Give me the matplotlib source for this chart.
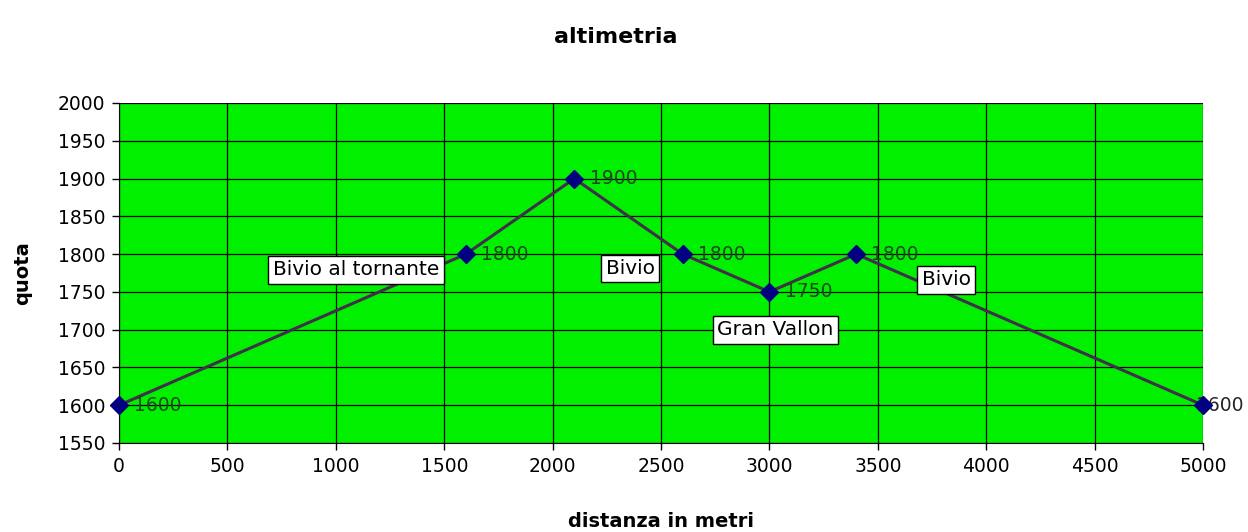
import matplotlib
matplotlib.use("Agg")
import matplotlib.pyplot as plt

plt.rcParams['font.family'] = ['DejaVu Sans']

# data
distanza = [0, 1600, 2100, 2600, 3000, 3400, 5000]
quota = [1600, 1800, 1900, 1800, 1750, 1800, 1600]

# callout labels (text, x, y in data units)
callout_text = ['Bivio al tornante', 'Bivio', 'Gran Vallon', 'Bivio']
callout_x = [1093, 2357, 3028, 3815]
callout_y = [1779, 1781, 1700, 1766]

x_ticks = list(range(0, 5001, 500))
y_ticks = list(range(1550, 2001, 50))

fig = plt.figure(figsize=(12.48, 5.32), dpi=100)
ax = fig.add_axes([0.0954, 0.1673, 0.8686, 0.6391])
ax.set_facecolor('#00f000')

ax.plot(distanza, quota, color='#40304a', lw=2.2, zorder=3)
ax.plot(distanza, quota, ls='none', marker='D', ms=9, color='#000080', zorder=5, clip_on=False)

# value labels
for xv, yv in zip(distanza, quota):
    if xv == max(distanza):
        ax.annotate(str(yv), (xv, yv), xytext=(29, 0), textcoords='offset points',
                    ha='right', va='center', fontsize=13.5, color='#262626', zorder=4,
                    annotation_clip=False)
    else:
        ax.annotate(str(yv), (xv, yv), xytext=(11, 0), textcoords='offset points',
                    ha='left', va='center', fontsize=13.5, color='#1d4a1d', zorder=4)

for t, xv, yv in zip(callout_text, callout_x, callout_y):
    ax.text(xv, yv, t, ha='center', va='center', fontsize=14.5, color='black', zorder=6,
            bbox=dict(boxstyle='square,pad=0.22', fc='white', ec='black', lw=1))

ax.set_xlim(0, 5000)
ax.set_ylim(1550, 2000)
ax.set_xticks(x_ticks)
ax.set_yticks(y_ticks)
ax.grid(True, color='black', lw=0.9)
ax.set_axisbelow(True)
ax.tick_params(direction='out', length=5, width=1, colors='black', labelsize=13.5, pad=5)
for s in ['top', 'right']:
    ax.spines[s].set_visible(False)
for s in ['left', 'bottom']:
    ax.spines[s].set_color('black')

fig.text(0.493, 1 - 37 / 532, 'altimetria', fontsize=16, fontweight='bold', ha='center', va='center')
ax.set_xlabel('distanza in metri', fontsize=14, fontweight='bold')
ax.set_ylabel('quota', fontsize=14, fontweight='bold')
ax.xaxis.set_label_coords(0.5, -0.232)
ax.yaxis.set_label_coords(-0.0886, 0.5)
ax.xaxis.label.set_va('center')
ax.yaxis.label.set_va('center')

fig.savefig('out.png', dpi=100)
